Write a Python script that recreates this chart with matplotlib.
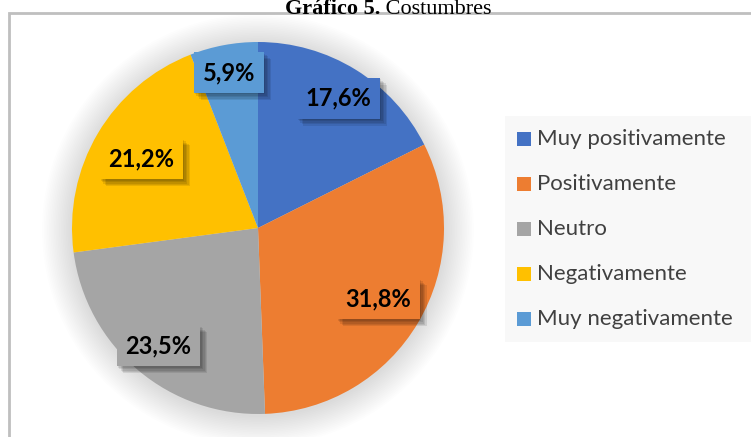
import matplotlib
matplotlib.use("Agg")
import matplotlib.pyplot as plt
import matplotlib.patheffects as pe
from matplotlib.patches import Rectangle, Circle
import numpy as np

categories = ["Muy positivamente", "Positivamente", "Neutro", "Negativamente", "Muy negativamente"]
values = [17.6, 31.8, 23.5, 21.2, 5.9]
colors = ["#4472C4", "#ED7D31", "#A5A5A5", "#FFC000", "#5B9BD5"]

# radial position of each label box (fraction of radius), like Excel's best fit
label_dist = [0.82, 0.75, 0.83, 0.73, 0.85]

W, H = 751, 437
fig = plt.figure(figsize=(W / 100, H / 100), dpi=100)
ax = fig.add_axes([0, 0, 1, 1])

# chart frame (runs off the right and bottom edges)
ax.add_patch(Rectangle((9, -10), 800, H - 13 + 10, fill=False, edgecolor="#BFBFBF", lw=2))

cx, cy, r = 258, H - 228, 186

# soft shadow around the pie
for k in range(18):
    ax.add_patch(Circle((cx, cy - 2), r + 1 + k * 1.7, color="black", alpha=0.009, lw=0, zorder=1))

wedges, _ = ax.pie(values, colors=colors, startangle=90, counterclock=False,
                   center=(cx, cy), radius=r, frame=True,
                   wedgeprops=dict(linewidth=0, zorder=2))
ax.set_xlim(0, W)
ax.set_ylim(0, H)
ax.axis("off")

# blurred-looking shadow for label boxes
shadow = [pe.SimplePatchShadow(offset=(o, -o), shadow_rgbFace="black", alpha=0.09)
          for o in (1, 2, 3, 4, 5)]

for w, v, c, d in zip(wedges, values, colors, label_dist):
    ang = np.deg2rad((w.theta1 + w.theta2) / 2)
    x = cx + d * r * np.cos(ang)
    y = cy + d * r * np.sin(ang)
    t = ax.text(x, y, f"{v:.1f}%".replace(".", ","), ha="center", va="center",
                fontsize=17, fontweight="bold", family="Lato", color="black", zorder=5,
                bbox=dict(boxstyle="square,pad=0.38", facecolor=c, edgecolor="none"))
    t.get_bbox_patch().set_path_effects(shadow + [pe.Normal()])

# legend
ax.add_patch(Rectangle((505, H - 342), 260, 226, facecolor="#F8F8F8", edgecolor="none", zorder=1))
for i, (name, c) in enumerate(zip(categories, colors)):
    y = H - (139 + 45 * i)
    ax.add_patch(Rectangle((517, y - 7), 14, 14, facecolor=c, edgecolor="none", zorder=3))
    ax.text(537, y, name, ha="left", va="center", fontsize=16, family="Lato",
            color="#404040", zorder=3)

# title, sitting right at the top edge
ty = 1 - 13.5 / H
fig.text(0.506, ty, "Gráfico 5.", ha="right", va="baseline",
         fontsize=16, fontweight="bold", family="Liberation Serif")
fig.text(0.506, ty, " Costumbres", ha="left", va="baseline",
         fontsize=16, family="Liberation Serif")

fig.savefig("out.png", dpi=100)
